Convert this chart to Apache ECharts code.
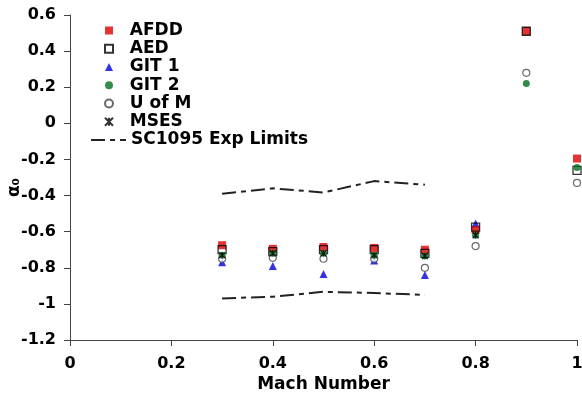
<!DOCTYPE html>
<html><head><meta charset="utf-8">
<script src="https://cdn.jsdelivr.net/npm/echarts@6/dist/echarts.min.js"></script>
<style>html,body{margin:0;padding:0;background:#fff}#c{width:582px;height:400px}</style>
</head><body><div id="c"></div>
<script>
var mach = [0.3, 0.4, 0.5, 0.6, 0.7, 0.8, 0.9, 1.0];
var afdd = [-0.675, -0.695, -0.685, -0.69, -0.70, -0.59, 0.51, -0.195];
var aed  = [-0.70, -0.71, -0.70, -0.70, -0.72, -0.575, 0.51, -0.26];
var git1 = [-0.77, -0.79, -0.835, -0.76, -0.84, -0.555, null, null];
var git2 = [-0.73, -0.72, -0.72, -0.73, -0.735, -0.62, 0.22, -0.245];
var uofm = [-0.75, -0.745, -0.75, -0.75, -0.80, -0.68, 0.28, -0.33];
var mses = [-0.73, -0.72, -0.72, -0.73, -0.735, -0.62, null, null];
var expMach = [0.3, 0.4, 0.5, 0.6, 0.7];
var expUpper = [-0.39, -0.36, -0.383, -0.32, -0.34];
var expLower = [-0.97, -0.96, -0.933, -0.94, -0.95];
var xTicks = { min: 0, max: 1, interval: 0.2 };
var yTicks = { min: -1.2, max: 0.6, interval: 0.2 };
var scatterNames = ['AFDD', 'AED', 'GIT 1', 'GIT 2', 'U of M', 'MSES'];
var limitName = 'SC1095 Exp Limits';

function pairs(xs, ys) {
  var out = [];
  for (var i = 0; i < xs.length; i++) if (ys[i] !== null) out.push([xs[i], ys[i]]);
  return out;
}
var FONT = 'DejaVu Sans';
var dash = [14, 5, 5, 5];
var asterisk = 'path://M0,0L10,10M10,0L0,10M5,0L5,10';
var legendText = { fontFamily: FONT, fontWeight: 'bold', fontSize: 17, color: '#000', lineHeight: 17 };

var chart = echarts.init(document.getElementById('c'), null, { renderer: 'canvas' });
chart.setOption({
  animation: false,
  backgroundColor: '#fff',
  grid: { left: 70, right: 5, top: 15, bottom: 60, containLabel: false, outerBoundsMode: 'none' },
  legend: [{
    orient: 'vertical', left: 99, top: 17,
    itemWidth: 8, itemHeight: 8, itemGap: 1.25,
    textStyle: legendText,
    formatter: function (n) { return '  ' + n; },
    data: scatterNames
  }, {
    orient: 'vertical', left: 85, top: 126.5,
    itemWidth: 35, itemHeight: 8, itemGap: 1.25,
    textStyle: legendText,
    data: [{ name: limitName, itemStyle: { color: 'rgba(0,0,0,0)', borderWidth: 0, opacity: 0 } }]
  }],
  xAxis: {
    type: 'value', min: xTicks.min, max: xTicks.max, interval: xTicks.interval,
    name: 'Mach Number', nameLocation: 'middle', nameGap: 36, nameMoveOverlap: false,
    nameTextStyle: { fontFamily: FONT, fontWeight: 'bold', fontSize: 17, color: '#000' },
    axisLine: { show: true, onZero: false, lineStyle: { color: '#444', width: 1 } },
    axisTick: { show: true, length: 6, lineStyle: { color: '#444' } },
    axisLabel: { fontFamily: FONT, fontWeight: 'bold', fontSize: 16, color: '#000', margin: 16,
      formatter: function (v) { return String(+v.toFixed(1)); } },
    splitLine: { show: false }
  },
  yAxis: {
    type: 'value', min: yTicks.min, max: yTicks.max, interval: yTicks.interval,
    name: 'α₀', nameLocation: 'middle', nameGap: 47, nameRotate: 90, nameMoveOverlap: false,
    nameTextStyle: { fontFamily: FONT, fontWeight: 'bold', fontSize: 17, color: '#000', padding: [0, 20, 0, 0] },
    axisLine: { show: true, onZero: false, lineStyle: { color: '#444', width: 1 } },
    axisTick: { show: true, length: 6, lineStyle: { color: '#444' } },
    axisLabel: { fontFamily: FONT, fontWeight: 'bold', fontSize: 16, color: '#000', margin: 14,
      formatter: function (v) { return String(+v.toFixed(1)); } },
    splitLine: { show: false }
  },
  series: [
    { name: limitName, type: 'line', data: pairs(expMach, expUpper), symbol: 'none', showSymbol: false,
      lineStyle: { color: '#222', width: 2, type: dash }, itemStyle: { color: '#222' }, z: 1 },
    { name: limitName, type: 'line', data: pairs(expMach, expLower), symbol: 'none', showSymbol: false,
      lineStyle: { color: '#222', width: 2, type: dash }, itemStyle: { color: '#222' }, z: 1 },
    { name: 'GIT 1', type: 'scatter', data: pairs(mach, git1), symbol: 'triangle', symbolSize: 8,
      itemStyle: { color: '#0000dd' }, clip: false },
    { name: 'AFDD', type: 'scatter', data: pairs(mach, afdd), symbol: 'rect', symbolSize: 8,
      itemStyle: { color: '#dd0000' }, clip: false },
    { name: 'AED', type: 'scatter', data: pairs(mach, aed), symbol: 'rect', symbolSize: 8,
      itemStyle: { color: 'rgba(0,0,0,0)', borderColor: '#000', borderWidth: 1.3 }, clip: false },
    { name: 'U of M', type: 'scatter', data: pairs(mach, uofm), symbol: 'circle', symbolSize: 7,
      itemStyle: { color: '#fff', borderColor: '#444', borderWidth: 1.2 }, clip: false },
    { name: 'GIT 2', type: 'scatter', data: pairs(mach, git2), symbol: 'circle', symbolSize: 7,
      itemStyle: { color: '#006f1e' }, clip: false },
    { name: 'MSES', type: 'scatter', data: pairs(mach, mses), symbol: asterisk, symbolSize: 6,
      itemStyle: { color: 'rgba(0,0,0,0)', borderColor: '#000', borderWidth: 1.2 }, clip: false }
  ]
});
</script></body></html>
